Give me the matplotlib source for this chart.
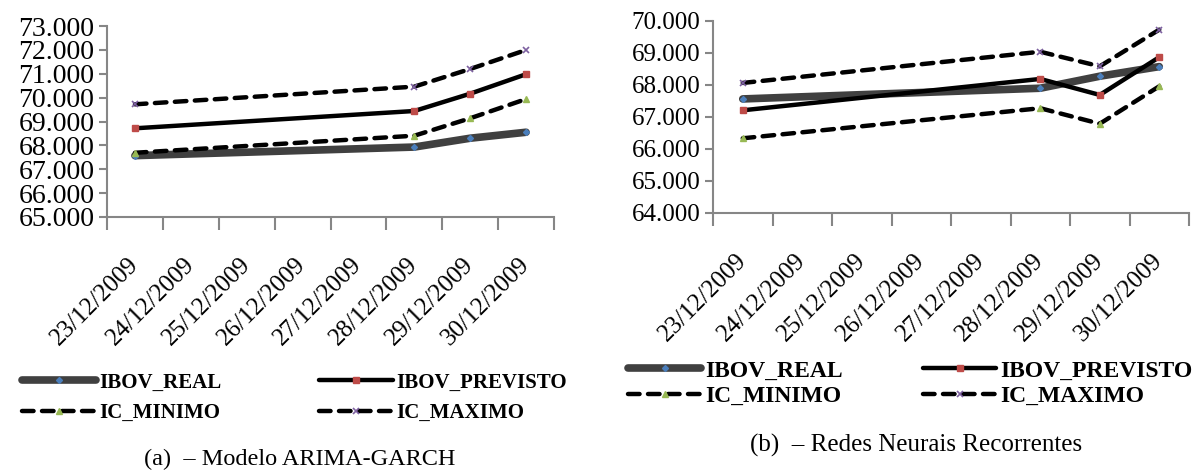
import matplotlib
matplotlib.use("Agg")
import matplotlib.pyplot as plt
from matplotlib.ticker import FuncFormatter, FixedLocator

# categorias do eixo x (eixo de datas do Excel)
datas = ["23/12/2009", "24/12/2009", "25/12/2009", "26/12/2009",
         "27/12/2009", "28/12/2009", "29/12/2009", "30/12/2009"]
datas_obs = ["23/12/2009", "28/12/2009", "29/12/2009", "30/12/2009"]

# (a) Modelo ARIMA-GARCH
a_real = [67570, 67930, 68300, 68550]
a_previsto = [68715, 69440, 70165, 70980]
a_min = [67690, 68405, 69135, 69940]
a_max = [69720, 70460, 71200, 71995]

# (b) Redes Neurais Recorrentes
b_real = [67555, 67890, 68265, 68565]
b_previsto = [67200, 68180, 67680, 68860]
b_min = [66325, 67265, 66780, 67950]
b_max = [68055, 69030, 68575, 69720]

labels = ["IBOV_REAL", "IBOV_PREVISTO", "IC_MINIMO", "IC_MAXIMO"]

plt.rcParams['font.family'] = ['Liberation Serif', 'DejaVu Serif']

W, H = 1194, 470
fig = plt.figure(figsize=(W / 100, H / 100), dpi=100)


def fmt(v, pos):
    return "{:,.0f}".format(v).replace(",", ".")


def draw(ax, real, prev, mn, mx, ylim, ytick_fs, xtick_fs):
    x = [datas.index(d) for d in datas_obs]
    l_real, = ax.plot(x, real, color='#404040', lw=5.5, solid_capstyle='round',
                      marker='D', ms=3, mfc='#4a7ebb', mec='#4a7ebb', zorder=3)
    l_prev, = ax.plot(x, prev, color='black', lw=3.2, solid_capstyle='round',
                      marker='s', ms=4.5, mfc='#be4b48', mec='#be4b48', zorder=4)
    l_min, = ax.plot(x, mn, color='black', lw=3.2, dashes=(2.6, 1.9),
                     dash_capstyle='round', marker='^', ms=5,
                     mfc='#98b954', mec='#98b954', zorder=4)
    l_max, = ax.plot(x, mx, color='black', lw=3.2, dashes=(2.6, 1.9),
                     dash_capstyle='round', marker='x', ms=4.5, mew=1.2,
                     mfc='#7d60a0', mec='#7d60a0', zorder=4)
    ax.set_xlim(-0.5, len(datas) - 0.5)
    ax.set_ylim(*ylim)
    ax.set_yticks(range(ylim[0], ylim[1] + 1, 1000))
    ax.yaxis.set_major_formatter(FuncFormatter(fmt))
    ax.set_xticks(range(len(datas)))
    ax.set_xticklabels(datas, rotation=45, ha='right', va='center',
                       rotation_mode='anchor', fontsize=xtick_fs)
    ax.xaxis.set_minor_locator(FixedLocator([i - 0.5 for i in range(len(datas) + 1)]))
    ax.tick_params(axis='x', which='major', length=0, pad=32)
    ax.tick_params(axis='x', which='minor', length=9, width=1.5, color='#868686')
    ax.tick_params(axis='y', length=6, width=1.5, color='#868686',
                   labelsize=ytick_fs, pad=3)
    for s in ['top', 'right']:
        ax.spines[s].set_visible(False)
    for s in ['left', 'bottom']:
        ax.spines[s].set_color('#868686')
        ax.spines[s].set_linewidth(1.5)
    return [l_real, l_prev, l_min, l_max]


def legenda(handles, x1, x2, yc, fs, hl, sp):
    for xs, idx in [(x1, [0, 2]), (x2, [1, 3])]:
        fig.legend([handles[i] for i in idx], [labels[i] for i in idx],
                   loc='center left', frameon=False,
                   bbox_to_anchor=(xs / W, 1 - yc / H),
                   prop={'size': fs, 'weight': 'bold'},
                   handlelength=hl, handletextpad=0.15, labelspacing=sp,
                   borderpad=0, borderaxespad=0)


ax1 = fig.add_axes([107 / W, (H - 217) / H, (554 - 107) / W, (217 - 26) / H])
h1 = draw(ax1, a_real, a_previsto, a_min, a_max, (65000, 73000), 20, 18)

ax2 = fig.add_axes([713 / W, (H - 212.7) / H, (1189 - 713) / W, (212.7 - 20.7) / H])
h2 = draw(ax2, b_real, b_previsto, b_min, b_max, (64000, 70000), 18, 18)

legenda(h1, 22, 319, 398, 15, 3.55, 0.5)
legenda(h2, 628, 923, 383.5, 17, 3.1, 0.15)

fig.text(300 / W, 1 - 459 / H, "(a)  \u2013 Modelo ARIMA-GARCH", fontsize=17.5,
         ha='center', va='center')
fig.text(916 / W, 1 - 445 / H, "(b)  \u2013 Redes Neurais Recorrentes", fontsize=18,
         ha='center', va='center')

fig.savefig("out.png", dpi=100)
